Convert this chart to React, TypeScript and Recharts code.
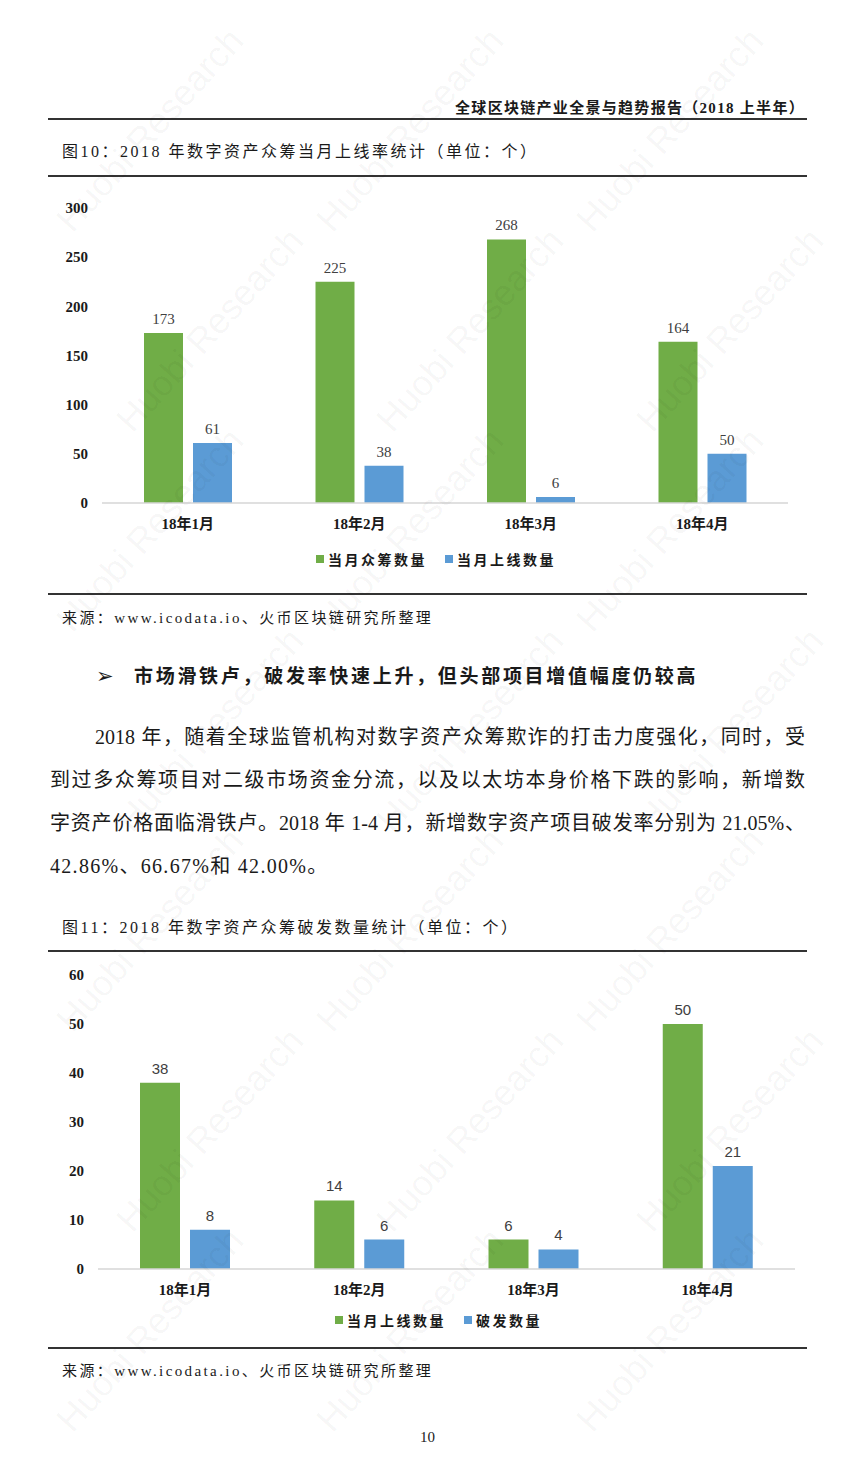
import React from "react";
import { BarChart, Bar, XAxis, YAxis, Legend, LabelList } from "recharts";

// 图10 / 图11 data
const months = ["18年1月", "18年2月", "18年3月", "18年4月"];
const raisedCount = [173, 225, 268, 164]; // 当月众筹数量
const listedCount = [61, 38, 6, 50]; // 当月上线数量
const listedCount2 = [38, 14, 6, 50]; // 图11 当月上线数量
const brokenCount = [8, 6, 4, 21]; // 破发数量
const ticks10 = [0, 50, 100, 150, 200, 250, 300];
const ticks11 = [0, 10, 20, 30, 40, 50, 60];

const GREEN = "#70AD47";
const BLUE = "#5B9BD5";
const SERIF = "'Liberation Serif', 'Noto Sans CJK SC', serif";
const SANS = "'Liberation Sans', Arial, sans-serif";

const fig10 = months.map((m, i) => ({ month: m, raised: raisedCount[i], listed: listedCount[i] }));
const fig11 = months.map((m, i) => ({ month: m, listed: listedCount2[i], broken: brokenCount[i] }));

function Text({ x, y, size = 16, style, children }: any) {
  return (
    <div
      style={{
        position: "absolute",
        left: x,
        top: y - size * 0.7,
        fontSize: size,
        lineHeight: `${size * 1.4}px`,
        whiteSpace: "nowrap",
        fontFamily: SERIF,
        color: "#1a1a1a",
        ...style,
      }}
    >
      {children}
    </div>
  );
}

function Rule({ y }: { y: number }) {
  return <div style={{ position: "absolute", left: 48, top: y - 1, width: 759, height: 2, background: "#333" }} />;
}

function LegendRow({ items }: { items: { label: string; color: string }[] }) {
  return (
    <div style={{ display: "flex", alignItems: "center", gap: 18, fontFamily: SERIF }}>
      {items.map((it) => (
        <div key={it.label} style={{ display: "flex", alignItems: "center" }}>
          <span style={{ width: 8, height: 8, background: it.color, display: "inline-block", marginRight: 4 }} />
          <span style={{ fontSize: 14, fontWeight: "bold", letterSpacing: 2.5, color: "#1a1a1a" }}>{it.label}</span>
        </div>
      ))}
    </div>
  );
}

const yTick = { fontSize: 15, fontWeight: "bold", fill: "#1a1a1a", fontFamily: SERIF };
const xTick = { fontSize: 15, fontWeight: "bold", fill: "#1a1a1a", fontFamily: SERIF };

// faint diagonal "Huobi Research" marks, kept inside the page
function Watermarks() {
  const marks = [];
  for (let r = 0; r < 7; r++) {
    for (let c = 0; c < 3; c++) {
      const cx = 150 + c * 260 + (r % 2) * 60;
      const cy = 130 + r * 200;
      marks.push(
        <div
          key={`${r}-${c}`}
          style={{
            position: "absolute",
            left: cx - 130,
            top: cy - 20,
            width: 260,
            textAlign: "center",
            transform: "rotate(-48deg)",
            fontFamily: SANS,
            fontSize: 36,
            lineHeight: "40px",
            color: "rgba(0,0,0,0.045)",
            whiteSpace: "nowrap",
            pointerEvents: "none",
          }}
        >
          Huobi Research
        </div>
      );
    }
  }
  return <>{marks}</>;
}

export default function App() {
  return (
    <div style={{ position: "absolute", left: 0, top: 0, width: 855, height: 1464, background: "#fff", overflow: "hidden" }}>
      <div style={{ position: "absolute", right: 50, top: 96, fontSize: 15, fontWeight: "bold", fontFamily: SERIF, color: "#1a1a1a", whiteSpace: "nowrap", letterSpacing: 1.3 }}>
        全球区块链产业全景与趋势报告（2018 上半年）
      </div>
      <Rule y={119} />
      <Text x={62} y={152} size={16} style={{ letterSpacing: 2.5 }}>
        图10：2018 年数字资产众筹当月上线率统计（单位：个）
      </Text>
      <Rule y={176} />

      <div style={{ position: "absolute", left: 40, top: 190 }}>
        <BarChart
          width={770}
          height={390}
          data={fig10}
          margin={{ top: 18, right: 22, left: 0, bottom: 47 }}
          barGap={10}
          barSize={39}
        >
          <XAxis
            dataKey="month"
            height={30}
            tick={xTick}
            tickLine={false}
            tickMargin={9}
            axisLine={{ stroke: "#d6d6d6", strokeWidth: 1.5 }}
          />
          <YAxis
            width={62}
            domain={[0, 300]}
            ticks={ticks10}
            tick={yTick}
            tickLine={false}
            tickMargin={8}
            axisLine={false}
          />
          <Legend
            verticalAlign="middle"
            align="center"
            wrapperStyle={{ top: 359, left: 276, width: "auto" }}
            content={() => (
              <LegendRow items={[{ label: "当月众筹数量", color: GREEN }, { label: "当月上线数量", color: BLUE }]} />
            )}
          />
          <Bar dataKey="raised" name="当月众筹数量" fill={GREEN} isAnimationActive={false}>
            <LabelList dataKey="raised" position="top" offset={9} style={{ fontSize: 15, fill: "#404040", fontFamily: SERIF }} />
          </Bar>
          <Bar dataKey="listed" name="当月上线数量" fill={BLUE} isAnimationActive={false}>
            <LabelList dataKey="listed" position="top" offset={9} style={{ fontSize: 15, fill: "#404040", fontFamily: SERIF }} />
          </Bar>
        </BarChart>
      </div>

      <Rule y={594} />
      <Text x={62} y={618} size={15} style={{ letterSpacing: 2.4 }}>
        来源：www.icodata.io、火币区块链研究所整理
      </Text>

      <Text x={96} y={677} size={21} style={{ fontFamily: "'DejaVu Sans', sans-serif", fontWeight: "bold" }}>➢</Text>
      <Text x={134} y={677} size={19} style={{ fontWeight: "bold", letterSpacing: 2.7 }}>
        市场滑铁卢，破发率快速上升，但头部项目增值幅度仍较高
      </Text>

      {[
        { x: 95, y: 737, w: 710, t: "2018 年，随着全球监管机构对数字资产众筹欺诈的打击力度强化，同时，受" },
        { x: 50, y: 780, w: 755, t: "到过多众筹项目对二级市场资金分流，以及以太坊本身价格下跌的影响，新增数" },
        { x: 50, y: 823, w: 755, t: "字资产价格面临滑铁卢。2018 年 1-4 月，新增数字资产项目破发率分别为 21.05%、" },
      ].map((l) => (
        <Text key={l.y} x={l.x} y={l.y} size={20} style={{ width: l.w, textAlign: "justify", textAlignLast: "justify", whiteSpace: "normal", height: 28, overflow: "hidden" }}>
          {l.t}
        </Text>
      ))}
      <Text x={50} y={866} size={20} style={{ letterSpacing: 1.3 }}>
        42.86%、66.67%和 42.00%。
      </Text>

      <Text x={62} y={928} size={16} style={{ letterSpacing: 2.5 }}>
        图11：2018 年数字资产众筹破发数量统计（单位：个）
      </Text>
      <Rule y={951} />

      <div style={{ position: "absolute", left: 40, top: 955 }}>
        <BarChart
          width={770}
          height={380}
          data={fig11}
          margin={{ top: 20, right: 15, left: 0, bottom: 36 }}
          barGap={10}
          barSize={40}
        >
          <XAxis
            dataKey="month"
            height={30}
            tick={xTick}
            tickLine={false}
            tickMargin={9}
            axisLine={{ stroke: "#d6d6d6", strokeWidth: 1.5 }}
          />
          <YAxis
            width={58}
            domain={[0, 60]}
            ticks={ticks11}
            tick={yTick}
            tickLine={false}
            tickMargin={8}
            axisLine={false}
          />
          <Legend
            verticalAlign="middle"
            align="center"
            wrapperStyle={{ top: 355, left: 295, width: "auto" }}
            content={() => (
              <LegendRow items={[{ label: "当月上线数量", color: GREEN }, { label: "破发数量", color: BLUE }]} />
            )}
          />
          <Bar dataKey="listed" name="当月上线数量" fill={GREEN} isAnimationActive={false}>
            <LabelList dataKey="listed" position="top" offset={9} style={{ fontSize: 15, fill: "#404040", fontFamily: SANS }} />
          </Bar>
          <Bar dataKey="broken" name="破发数量" fill={BLUE} isAnimationActive={false}>
            <LabelList dataKey="broken" position="top" offset={9} style={{ fontSize: 15, fill: "#404040", fontFamily: SANS }} />
          </Bar>
        </BarChart>
      </div>

      <Rule y={1348} />
      <Text x={62} y={1371} size={15} style={{ letterSpacing: 2.4 }}>
        来源：www.icodata.io、火币区块链研究所整理
      </Text>
      <Text x={420} y={1437} size={15}>10</Text>

      <Watermarks />
    </div>
  );
}
